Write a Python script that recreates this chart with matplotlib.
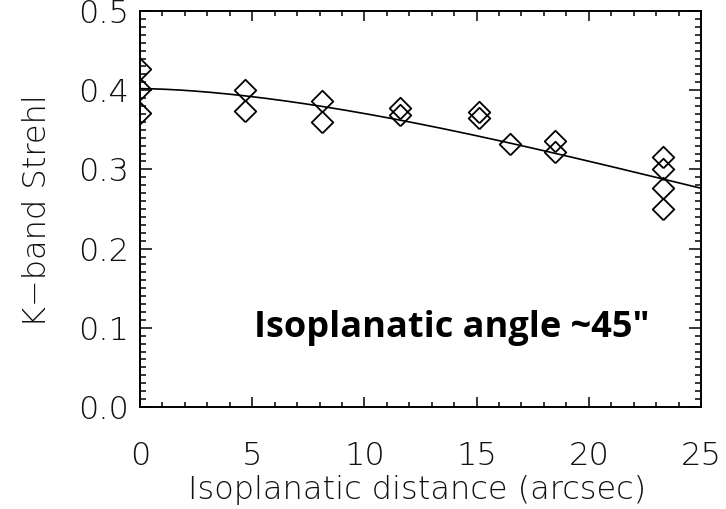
import numpy as np
import matplotlib
matplotlib.use("Agg")
import matplotlib.pyplot as plt
from matplotlib.ticker import MultipleLocator

# Data
sep_x = [0.0, 0.0, 0.0, 4.7, 4.7, 8.1, 8.1, 11.6, 11.6, 15.1, 15.1,
         16.5, 18.5, 18.5, 23.3, 23.3, 23.3, 23.3]
strehl_y = [0.427, 0.402, 0.371, 0.400, 0.374, 0.386, 0.360, 0.378, 0.369,
            0.373, 0.365, 0.332, 0.336, 0.322, 0.316, 0.301, 0.276, 0.250]

# Fit curve parameters: S = S0 * exp(-(theta/theta0)^(5/3))
fit_s0 = 0.402
fit_theta0 = 45.0

xticks = [0, 5, 10, 15, 20, 25]
yticks = [0.0, 0.1, 0.2, 0.3, 0.4, 0.5]

fig = plt.figure(figsize=(7.26, 5.09), dpi=100)
ax = fig.add_axes([0.1928, 0.2004, 0.7728, 0.778])

xf = np.linspace(0, 25, 200)
ax.plot(xf, fit_s0 * np.exp(-(xf / fit_theta0) ** (5.0 / 3.0)), color='black', lw=1.2)

diamond = [(0, -1), (1, 0), (0, 1), (-1, 0), (0, -1)]
ax.plot(sep_x, strehl_y, linestyle='none', marker=diamond, markersize=15.5,
        markerfacecolor='none', markeredgecolor='black', markeredgewidth=1.3)

ax.set_xlim(0, 25)
ax.set_ylim(0, 0.5)
ax.set_xticks(xticks)
ax.set_yticks(yticks)
ax.set_xticklabels([str(v) for v in xticks])
ax.set_yticklabels([f"{v:.1f}" for v in yticks])
ax.xaxis.set_minor_locator(MultipleLocator(1))
ax.yaxis.set_minor_locator(MultipleLocator(0.01))

for s in ax.spines.values():
    s.set_linewidth(1.4)

fam = ['DejaVu Sans']
fs = 23
ax.tick_params(axis='both', which='both', direction='in', top=True, right=True,
               width=1.1, labelcolor='#111111')
ax.tick_params(axis='x', which='major', length=7, pad=24.5, labelsize=fs)
ax.tick_params(axis='x', which='minor', length=3.5)
ax.tick_params(axis='y', which='major', length=8.5, pad=8, labelsize=fs)
ax.tick_params(axis='y', which='minor', length=4.5)
for lab in ax.get_xticklabels() + ax.get_yticklabels():
    lab.set_fontfamily(fam)
    lab.set_fontweight('light')

ax.set_xlabel('Isoplanatic distance (arcsec)', fontsize=fs,
              family=fam, weight='light', color='#111111')
ax.set_ylabel('K\u2212band Strehl', fontsize=fs,
              family=fam, weight='light', color='#111111')
ax.xaxis.set_label_coords(0.4947, -0.2096)
ax.xaxis.label.set_va('center')
ax.yaxis.set_label_coords(-0.1836, 0.497)
ax.yaxis.label.set_va('center')
ax.yaxis.label.set_ha('center')

ax.text(0.556, 0.2, 'Isoplanatic angle ~45\u2033', transform=ax.transAxes,
        fontsize=26, fontweight='bold', family=['Open Sans', 'DejaVu Sans'],
        ha='center', va='center')

fig.savefig('out.png', dpi=100)
